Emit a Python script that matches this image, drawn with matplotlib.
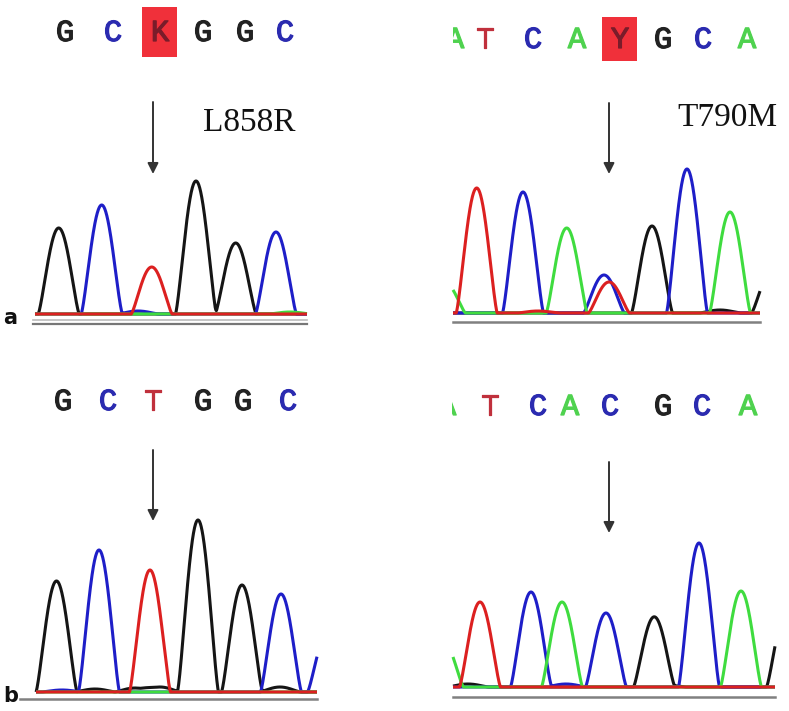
import numpy as np
import matplotlib
matplotlib.use("Agg")
import matplotlib.pyplot as plt
from matplotlib.patches import Rectangle
import matplotlib.patheffects as pe

# ---------------- data (figure pixel space) ----------------
COL = {"G": "#151515", "C": "#1e1ec8", "T": "#dc2020", "A": "#3fdc3f"}
TXT = {"G": "#222222", "C": "#2b2bb0", "T": "#c0303c", "A": "#4fd24f"}

# Panel a-left (L858R, heterozygous K)
aL_peak_x = [58.7, 101.7, 151.7, 196.0, 235.7, 276.0, 138.0, 290.0]
aL_peak_h = [86, 109, 47, 133, 71, 82, 3, 2]
aL_peak_b = ["G", "C", "T", "G", "G", "C", "C", "A"]
aL_range = [35, 307]
aL_base = 314
aL_letters = ["G", "C", "K", "G", "G", "C"]
aL_letter_x = [65, 113, 160, 203, 245, 285]

# Panel a-right (T790M, heterozygous Y)
aR_peak_x = [445.0, 476.7, 523.0, 566.7, 604.0, 609.0, 652.0, 687.0, 730.0, 772.0, 538.0, 720.0]
aR_peak_h = [30, 125, 121, 85, 38, 31, 87, 144, 101, 42, 2, 3]
aR_peak_b = ["A", "T", "C", "A", "C", "T", "G", "C", "A", "G", "T", "G"]
aR_range = [453, 760]
aR_base = 313
aR_letters = ["A", "T", "C", "A", "Y", "G", "C", "A"]
aR_letter_x = [455, 485, 533, 577, 620, 663, 703, 747]

# Panel b-left (wild type)
bL_peak_x = [56.5, 99.0, 150.0, 198.0, 242.0, 281.0, 328.0, 95.0, 135.0, 160.0, 280.0, 62.0]
bL_peak_h = [111, 142, 122, 172, 107, 98, 60, 3, 4, 5, 5, 2]
bL_peak_b = ["G", "C", "T", "G", "G", "C", "C", "G", "G", "G", "G", "C"]
bL_range = [36, 317]
bL_base = 692
bL_letters = ["G", "C", "T", "G", "G", "C"]
bL_letter_x = [63, 108, 153, 203, 243, 288]

# Panel b-right (wild type)
bR_peak_x = [443.0, 480.0, 531.0, 562.0, 606.0, 654.0, 699.0, 741.0, 787.0, 468.0, 566.0, 665.0]
bR_peak_h = [46, 85, 95, 85, 74, 69, 144, 96, 78, 3, 3, 2]
bR_peak_b = ["A", "T", "C", "A", "C", "G", "C", "A", "G", "G", "C", "G"]
bR_range = [453, 775]
bR_base = 687
bR_letters = ["A", "T", "C", "A", "C", "G", "C", "A"]
bR_letter_x = [447, 490, 538, 570, 610, 663, 702, 748]

W_HALF = 20.5   # half base width of a peak (px)
SHAPE_P = 1.3   # peak profile exponent

fig = plt.figure(figsize=(7.89, 7.11), dpi=100)
ax = fig.add_axes([0, 0, 1, 1])
ax.set_xlim(0, 789)
ax.set_ylim(711, 0)
ax.axis("off")


def trace(px, ph, pb, xr, base, order=("G", "C", "A", "T")):
    xs = np.linspace(xr[0], xr[1], 1500)
    for b in order:
        y = np.zeros_like(xs)
        for c, h, bb in zip(px, ph, pb):
            if bb != b:
                continue
            d = np.abs(xs - c)
            prof = np.clip(np.cos(np.pi * np.minimum(d, W_HALF) / (2 * W_HALF)), 0, None)
            y += h * prof ** SHAPE_P
        ax.plot(xs, base - y, color=COL[b], lw=2.2, solid_capstyle="butt",
                solid_joinstyle="round", zorder=3)


def letters(labels, lx, ly, box_h=48, clip_left=None):
    for lab, x in zip(labels, lx):
        if lab in ("K", "Y"):
            ax.add_patch(Rectangle((x - 17.5, ly - box_h / 2 - 1), 35, box_h,
                                   facecolor="#f0303a", edgecolor="none", zorder=2))
            color = "#7a1c2a"
        else:
            color = TXT[lab]
        t = ax.text(x, ly, lab, color=color, ha="center", va="center",
                    fontsize=22, family="Liberation Mono", zorder=3,
                    path_effects=[pe.withStroke(linewidth=0.9, foreground=color)])
        if clip_left is not None:
            clip = Rectangle((clip_left, 0), 789, 711, transform=ax.transData)
            t.set_clip_on(True)
            t.set_clip_path(clip)


def arrow(x, y0, y1):
    ax.annotate("", xy=(x, y1), xytext=(x, y0),
                arrowprops=dict(arrowstyle="-|>", color="#333333", lw=1.4,
                                mutation_scale=16, shrinkA=0, shrinkB=0))


# traces
trace(aL_peak_x, aL_peak_h, aL_peak_b, aL_range, aL_base)
trace(aR_peak_x, aR_peak_h, aR_peak_b, aR_range, aR_base)
trace(bL_peak_x, bL_peak_h, bL_peak_b, bL_range, bL_base)
trace(bR_peak_x, bR_peak_h, bR_peak_b, bR_range, bR_base)

# underlines
ax.plot([33, 307], [320, 320], color="#bbbbbb", lw=1.2)
ax.plot([33, 307], [324, 324], color="#777777", lw=1.6)
ax.plot([453, 760], [322, 322], color="#808080", lw=1.8)
ax.plot([20, 317], [699, 699], color="#808080", lw=1.8)
ax.plot([453, 775], [697, 697], color="#808080", lw=1.8)

# base letters
letters(aL_letters, aL_letter_x, 33, box_h=50)
letters(aR_letters, aR_letter_x, 40, box_h=44, clip_left=453)
letters(bL_letters, bL_letter_x, 402)
letters(bR_letters, bR_letter_x, 407, clip_left=452)

# arrows
arrow(153, 102, 174)
arrow(609, 103, 174)
arrow(153, 450, 521)
arrow(609, 462, 533)

# mutation labels
ax.text(203, 123, "L858R", fontsize=24, family="Liberation Serif", color="#111111",
        ha="left", va="center")
ax.text(677, 118, "T790M", fontsize=24, family="Liberation Serif", color="#111111",
        ha="left", va="center")

# panel labels
ax.text(3, 318, "a", fontsize=15, fontweight="bold", family="DejaVu Sans", color="#111111",
        ha="left", va="center")
ax.text(3, 696, "b", fontsize=15, fontweight="bold", family="DejaVu Sans", color="#111111",
        ha="left", va="center")

fig.savefig("out.png", dpi=100, facecolor="white")
